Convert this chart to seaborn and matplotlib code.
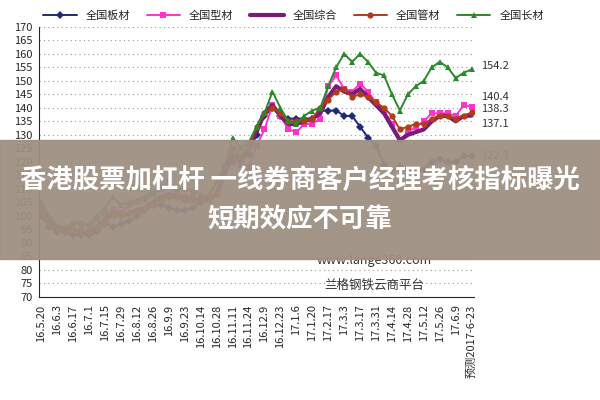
import numpy as np
import pandas as pd
import matplotlib
matplotlib.use('Agg')
import matplotlib.pyplot as plt
import seaborn as sns

sns.set_style('white')
plt.rcParams['font.family'] = ['Noto Sans CJK SC', 'DejaVu Sans']

# 横轴刻度
tick_labels = ['16.5.20', '16.6.3', '16.6.17', '16.7.1', '16.7.15', '16.7.29', '16.8.12',
               '16.8.26', '16.9.9', '16.9.23', '16.10.14', '16.10.28', '16.11.11', '16.11.24',
               '16.12.9', '16.12.23', '17.1.6', '17.1.20', '17.2.17', '17.3.3', '17.3.17',
               '17.3.31', '17.4.14', '17.4.28', '17.5.12', '17.5.26', '17.6.9', '预测2017-6-23']

banc = [100, 96, 94, 94, 93, 93, 93, 94, 97, 96, 97, 98, 100, 102, 104, 104, 103, 102, 102,
        103, 105, 107, 108, 118, 122, 120, 123, 130, 137, 140, 137, 136, 136, 136, 136, 139,
        139, 139, 137, 137, 133, 129, 126, 119, 117, 118, 117, 116, 117, 120, 121, 120, 120,
        122, 122.3]
xingc = [103, 99, 96, 95, 97, 97, 96, 99, 101, 102, 101, 104, 105, 106, 108, 110, 113, 109, 107,
         107, 106, 106, 108, 117, 120, 119, 118, 126, 132, 141, 137, 132, 131, 134, 134, 136,
         148, 152, 147, 146, 149, 146, 142, 139, 134, 128, 131, 133, 135, 138, 138, 138, 137,
         141, 140.4]
zonghe = [102, 98, 95, 95, 95, 94, 94, 96, 99, 101, 100, 101, 102, 103, 105, 107, 108, 107, 106,
          106, 106, 106, 108, 116, 122, 122, 124, 132, 138, 141, 137, 134, 134, 135, 136, 138,
          144, 148, 146, 145, 147, 144, 141, 138, 133, 128, 130, 131, 132, 135, 137, 137, 135,
          137, 137.1]
guanc = [102, 97, 95, 95, 95, 95, 94, 96, 98, 100, 100, 101, 102, 103, 104, 106, 107, 107, 106,
         106, 106, 107, 108, 118, 125, 122, 125, 133, 138, 140, 138, 135, 135, 135, 136, 140,
         143, 146, 147, 144, 145, 144, 142, 140, 137, 132, 133, 134, 134, 136, 137, 137, 136,
         137, 138.3]
changc = [105, 100, 96, 96, 97, 97, 97, 100, 103, 107, 104, 105, 106, 107, 109, 111, 112, 110,
          110, 109, 108, 107, 113, 118, 129, 125, 127, 133, 138, 146, 140, 135, 134, 137, 139,
          140, 148, 155, 160, 157, 160, 157, 153, 152, 145, 139, 145, 148, 150, 155, 157, 155,
          151, 153, 154.2]

names = ['全国板材', '全国型材', '全国综合', '全国管材', '全国长材']
series = [banc, xingc, zonghe, guanc, changc]
colors = ['#1f2a7a', '#ff33cc', '#7a1a7a', '#b23c17', '#2a8a2a']
markers = ['D', 's', '', 'o', '^']

df = pd.concat([pd.DataFrame({'idx': np.arange(len(v)), 'val': v, 'name': n})
                for n, v in zip(names, series)])

fig = plt.figure(figsize=(6, 4), dpi=100)
ax = fig.add_axes([0.065, 0.258, 0.725, 0.675])
for n, c, m in zip(names, colors, markers):
    sub = df[df['name'] == n]
    lw = 3.0 if m == '' else 1.4
    sns.lineplot(data=sub, x='idx', y='val', ax=ax, color=c, lw=lw,
                 marker=m if m else None, markersize=4.5, markeredgewidth=0, label=n)

ax.set_xlim(-0.3, 54.3)
ax.set_ylim(70, 170)
ax.set_yticks(range(70, 171, 5))
ax.set_xticks(range(0, 55, 2))
ax.set_xticklabels(tick_labels, rotation=90, fontsize=8)
ax.tick_params(axis='y', labelsize=8, pad=1)
ax.tick_params(axis='x', pad=2)
ax.set_xlabel('')
ax.set_ylabel('')
ax.yaxis.grid(True, ls=(0, (1, 3)), color='#999999', lw=0.8)
for s in ['top', 'right']:
    ax.spines[s].set_visible(False)

# 末端数值标注
ends = [(122.3, 122), (140.4, 144), (138.3, 139.5), (137.1, 134), (154.2, 155.5)]
for v, ypos in ends:
    ax.text(55.2, ypos, f'{v}', fontsize=8, va='center', ha='left', color='#333333')

ax.legend(loc='lower left', bbox_to_anchor=(0.0, 1.005), ncol=5, frameon=False,
          fontsize=8, handlelength=3, columnspacing=1.5, borderaxespad=0)

ax.text(0.77, 0.12, 'www.lange360.com', transform=ax.transAxes, fontsize=9,
        ha='center', color='#333333')
ax.text(0.77, 0.03, '兰格钢铁云商平台', transform=ax.transAxes, fontsize=9,
        ha='center', color='#333333')

# 标题横幅
fig.patches.append(plt.Rectangle((0, 0.352), 1, 0.298, transform=fig.transFigure,
                                 color='#9e8f82', alpha=0.95, zorder=5))
fig.text(0.5, 0.548, '香港股票加杠杆 一线券商客户经理考核指标曝光', ha='center', va='center',
         fontsize=19, fontweight='bold', color='white', zorder=6)
fig.text(0.5, 0.45, '短期效应不可靠', ha='center', va='center',
         fontsize=19, fontweight='bold', color='white', zorder=6)

fig.savefig('out.png', dpi=100)
